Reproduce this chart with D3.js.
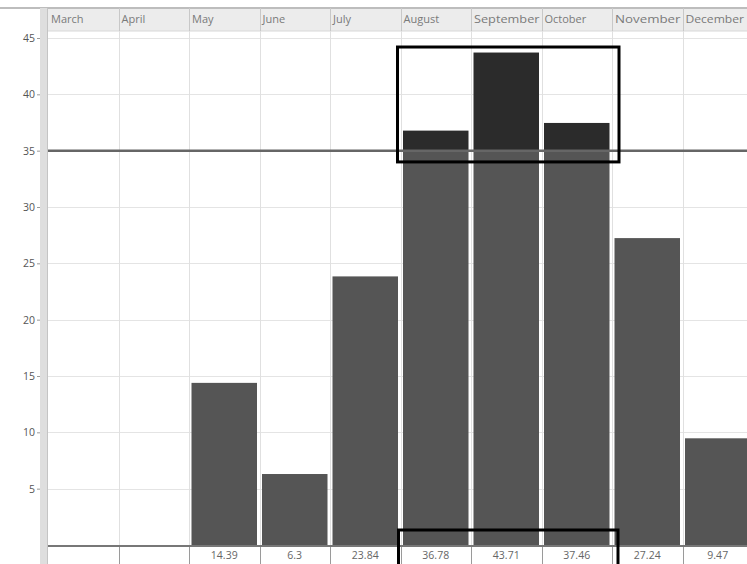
<!DOCTYPE html>
<html>
<head>
<meta charset="utf-8">
<script src="https://cdn.jsdelivr.net/npm/d3@7"></script>
<style>
  html, body { margin: 0; padding: 0; background: #fff; }
  svg { display: block; font-family: "Segoe UI", "Open Sans", "DejaVu Sans", sans-serif; }
</style>
</head>
<body>
<svg id="chart" width="747" height="564"></svg>
<script>
// Monthly values (March and April have no reading)
const months = ["March", "April", "May", "June", "July", "August", "September", "October", "November", "December"];
const values = [null, null, 14.39, 6.3, 23.84, 36.78, 43.71, 37.46, 27.24, 9.47];
const valueLabels = ["", "", "14.39", "6.3", "23.84", "36.78", "43.71", "37.46", "27.24", "9.47"];
const yTicks = [5, 10, 15, 20, 25, 30, 35, 40, 45];
const threshold = 35;
const highlightMonths = ["August", "September", "October"];
const highlightRange = [34, 44.2];

const svg = d3.select("#chart");
const W = 747, H = 564;
const plotLeft = 48, colW = 70.5;
const plotTop = 31, plotBottom = 545;

const x = d3.scaleBand()
  .domain(months)
  .range([plotLeft, plotLeft + colW * months.length])
  .paddingInner(0).paddingOuter(0);

const y = d3.scaleLinear().domain([0, 45]).range([plotBottom, 38]);

// Header strip with month names
svg.append("rect").attr("x", plotLeft).attr("y", 8).attr("width", W - plotLeft).attr("height", plotTop - 8)
  .attr("fill", "#ececec");
svg.append("line").attr("x1", 0).attr("x2", W).attr("y1", 8).attr("y2", 8)
  .attr("stroke", "#bdbdbd").attr("stroke-width", 2);
svg.append("line").attr("x1", plotLeft).attr("x2", W).attr("y1", plotTop).attr("y2", plotTop)
  .attr("stroke", "#d8d8d8").attr("stroke-width", 1);

// Left axis band
svg.append("rect").attr("x", 40).attr("y", 8).attr("width", 8).attr("height", H - 8)
  .attr("fill", "#dedede");
svg.append("line").attr("x1", 47.5).attr("x2", 47.5).attr("y1", 8).attr("y2", H)
  .attr("stroke", "#c4c4c4").attr("stroke-width", 1);

// Horizontal grid
svg.append("g").selectAll("line").data(yTicks).join("line")
  .attr("x1", plotLeft).attr("x2", W)
  .attr("y1", d => Math.round(y(d)) + 0.5).attr("y2", d => Math.round(y(d)) + 0.5)
  .attr("stroke", "#e4e4e4").attr("stroke-width", 1);

// Vertical column dividers
svg.append("g").selectAll("line").data(months.slice(1)).join("line")
  .attr("x1", d => Math.round(x(d)) + 0.5).attr("x2", d => Math.round(x(d)) + 0.5)
  .attr("y1", 8).attr("y2", plotBottom)
  .attr("stroke", "#e0e0e0").attr("stroke-width", 1);
svg.append("g").selectAll("line").data(months.slice(1)).join("line")
  .attr("x1", d => Math.round(x(d)) + 0.5).attr("x2", d => Math.round(x(d)) + 0.5)
  .attr("y1", 8).attr("y2", plotTop)
  .attr("stroke", "#c8c8c8").attr("stroke-width", 1);

// Month labels in the header
svg.append("g").selectAll("text").data(months).join("text")
  .attr("x", d => x(d) + 3).attr("y", 23)
  .attr("font-size", 11).attr("fill", "#7a7a7a")
  .attr("textLength", d => d.length > 7 ? Math.min(x.bandwidth() - 5, W - x(d) - 6) : null)
  .attr("lengthAdjust", "spacingAndGlyphs")
  .text(d => d);

// Y axis tick labels
const yAxis = d3.axisLeft(y).tickValues(yTicks).tickSize(3).tickPadding(2).tickFormat(d3.format("d"));
const gy = svg.append("g").attr("transform", "translate(40,0)").call(yAxis);
gy.select(".domain").remove();
gy.selectAll(".tick line").attr("stroke", "#9a9a9a");
gy.selectAll(".tick text").attr("fill", "#555").attr("font-size", 10.5)
  .attr("font-family", "\"Segoe UI\", \"Open Sans\", \"DejaVu Sans\", sans-serif");

// Bars: lower part up to the threshold, darker part above it
const barData = months.map((m, i) => ({ month: m, value: values[i] })).filter(d => d.value != null);
const pad = 2.5;
svg.append("g").selectAll("rect").data(barData).join("rect")
  .attr("x", d => x(d.month) + pad)
  .attr("width", x.bandwidth() - pad * 2)
  .attr("y", d => y(Math.min(d.value, threshold)))
  .attr("height", d => y(0) - y(Math.min(d.value, threshold)))
  .attr("fill", "#555555");
svg.append("g").selectAll("rect").data(barData.filter(d => d.value > threshold)).join("rect")
  .attr("x", d => x(d.month) + pad)
  .attr("width", x.bandwidth() - pad * 2)
  .attr("y", d => y(d.value))
  .attr("height", d => y(threshold) - y(d.value))
  .attr("fill", "#2b2b2b");

// Threshold line
svg.append("line").attr("x1", plotLeft).attr("x2", W)
  .attr("y1", y(threshold)).attr("y2", y(threshold))
  .attr("stroke", "#666").attr("stroke-width", 2.5);

// Value table under the chart
svg.append("line").attr("x1", plotLeft).attr("x2", W).attr("y1", plotBottom + 1).attr("y2", plotBottom + 1)
  .attr("stroke", "#777").attr("stroke-width", 2);
svg.append("g").selectAll("line").data(months.slice(1)).join("line")
  .attr("x1", d => Math.round(x(d)) + 0.5).attr("x2", d => Math.round(x(d)) + 0.5)
  .attr("y1", plotBottom + 2).attr("y2", H)
  .attr("stroke", "#9a9a9a").attr("stroke-width", 1);
svg.append("g").selectAll("text").data(months).join("text")
  .attr("x", d => x(d) + x.bandwidth() / 2).attr("y", 559)
  .attr("text-anchor", "middle").attr("font-size", 10.5).attr("fill", "#666")
  .text((d, i) => valueLabels[i]);

// Highlight boxes around the months above the threshold
const hx0 = x(highlightMonths[0]) - 3;
const hx1 = x(highlightMonths[highlightMonths.length - 1]) + x.bandwidth() + 7;
svg.append("rect")
  .attr("x", hx0).attr("width", hx1 - hx0)
  .attr("y", y(highlightRange[1])).attr("height", y(highlightRange[0]) - y(highlightRange[1]))
  .attr("fill", "none").attr("stroke", "#000").attr("stroke-width", 3);
svg.append("rect")
  .attr("x", hx0 + 1).attr("width", hx1 - hx0 - 2)
  .attr("y", 530).attr("height", 40)
  .attr("fill", "none").attr("stroke", "#000").attr("stroke-width", 3);
</script>
</body>
</html>
